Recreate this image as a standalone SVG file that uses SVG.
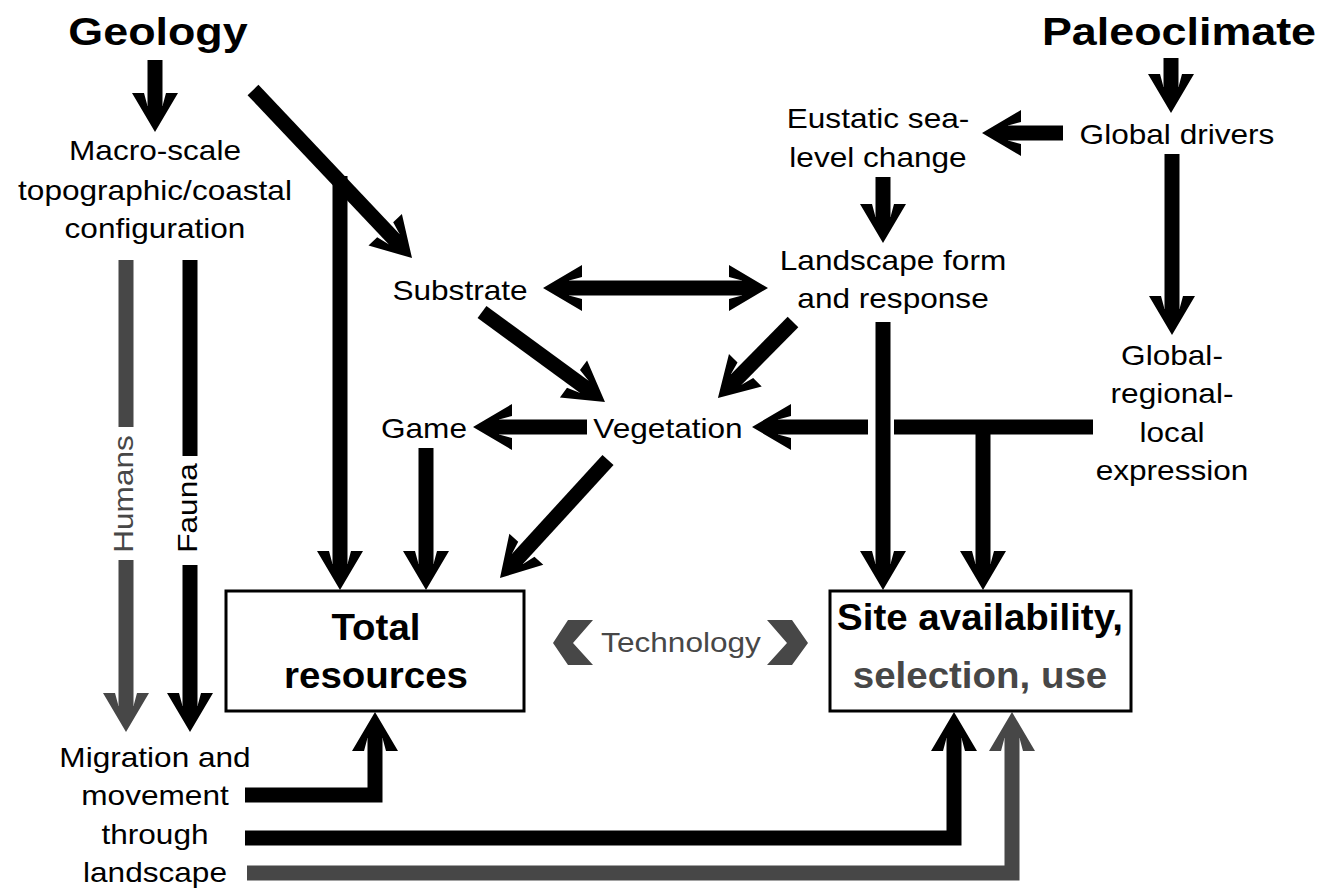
<svg xmlns="http://www.w3.org/2000/svg" width="1332" height="889" viewBox="0 0 1332 889">
<style>
.t{font-family:"Liberation Sans",Arial,sans-serif;font-size:27px;fill:#000;text-anchor:middle}
.b{font-weight:bold;font-size:38px}
.bb{font-weight:bold;font-size:37px}
.g{fill:#474747}
.k{fill:none;stroke:#000;stroke-width:15;stroke-linejoin:miter}
.kg{fill:none;stroke:#474747;stroke-width:15;stroke-linejoin:miter}
.box{fill:#fff;stroke:#000;stroke-width:3}
</style>
<defs>
<marker id="ah" markerUnits="userSpaceOnUse" viewBox="-42 -25 44 50" markerWidth="44" markerHeight="50" refX="-24" refY="0" orient="auto-start-reverse" overflow="visible">
<polygon points="0,0 -39,-23 -39,-11 -26,-7.5 -26,7.5 -39,11 -39,23" fill="#000"/>
</marker>
<marker id="ahg" markerUnits="userSpaceOnUse" viewBox="-42 -25 44 50" markerWidth="44" markerHeight="50" refX="-24" refY="0" orient="auto" overflow="visible">
<polygon points="0,0 -39,-23 -39,-11 -26,-7.5 -26,7.5 -39,11 -39,23" fill="#474747"/>
</marker>
</defs>
<rect width="1332" height="889" fill="#fff"/>

<g id="connectors">
<path class="k" d="M155,60 V108" marker-end="url(#ah)"/>
<path class="k" d="M253,90 L395.5,240.6" marker-end="url(#ah)"/>
<path class="k" d="M340,176 V566" marker-end="url(#ah)"/>
<path class="kg" d="M126,260 V427"/>
<path class="kg" d="M126,560 V708" marker-end="url(#ahg)"/>
<path class="k" d="M190,260 V456"/>
<path class="k" d="M190,565 V708" marker-end="url(#ah)"/>
<path class="k" d="M426,448 V566" marker-end="url(#ah)"/>
<path class="k" d="M608,460 L516.2,560.3" marker-end="url(#ah)"/>
<path class="k" d="M482,312 L585.6,387.8" marker-end="url(#ah)"/>
<path class="k" d="M793,322 L734.8,380.9" marker-end="url(#ah)"/>
<path class="k" d="M567,288 H744" marker-start="url(#ah)" marker-end="url(#ah)"/>
<path class="k" d="M587,427 H497" marker-end="url(#ah)"/>
<path class="k" d="M1093,427 H894"/>
<path class="k" d="M868,427 H776" marker-end="url(#ah)"/>
<path class="k" d="M983,420 V566" marker-end="url(#ah)"/>
<path class="k" d="M883,322 V566" marker-end="url(#ah)"/>
<path class="k" d="M883,177 V219" marker-end="url(#ah)"/>
<path class="k" d="M1063,133 H1006" marker-end="url(#ah)"/>
<path class="k" d="M1172,154 V311" marker-end="url(#ah)"/>
<path class="k" d="M1171,58 V89" marker-end="url(#ah)"/>
<path class="k" d="M245,795 H375 V736" marker-end="url(#ah)"/>
<path class="k" d="M245,838 H954 V736" marker-end="url(#ah)"/>
<path class="kg" d="M247,873 H1012 V736" marker-end="url(#ahg)"/>
</g>

<g id="geology"><text class="t b" transform="translate(158,45) scale(1.18,1)">Geology</text></g>
<g id="paleoclimate"><text class="t b" transform="translate(1179,45) scale(1.18,1)">Paleoclimate</text></g>
<g id="macro"><text class="t" transform="translate(155,160) scale(1.17,1)"><tspan x="0" y="0">Macro-scale</tspan><tspan x="0" y="40">topographic/coastal</tspan><tspan x="0" y="78">configuration</tspan></text></g>
<g id="eustatic"><text class="t" transform="translate(878,128) scale(1.17,1)"><tspan x="0" y="0">Eustatic sea-</tspan><tspan x="0" y="39">level change</tspan></text></g>
<g id="globaldrivers"><text class="t" transform="translate(1177,144) scale(1.17,1)">Global drivers</text></g>
<g id="landscape"><text class="t" transform="translate(893,270) scale(1.17,1)"><tspan x="0" y="0">Landscape form</tspan><tspan x="0" y="38">and response</tspan></text></g>
<g id="substrate"><text class="t" transform="translate(460,300) scale(1.17,1)">Substrate</text></g>
<g id="gexpr"><text class="t" transform="translate(1172,365) scale(1.17,1)"><tspan x="0" y="0">Global-</tspan><tspan x="0" y="38.5">regional-</tspan><tspan x="0" y="77">local</tspan><tspan x="0" y="115.5">expression</tspan></text></g>
<g id="game"><text class="t" transform="translate(424,438) scale(1.17,1)">Game</text></g>
<g id="vegetation"><text class="t" transform="translate(668,438) scale(1.17,1)">Vegetation</text></g>
<g id="humans"><text class="t g" transform="translate(133,494) rotate(-90) scale(1.17,1)">Humans</text></g>
<g id="fauna"><text class="t" transform="translate(197,508) rotate(-90) scale(1.17,1)">Fauna</text></g>
<g id="total">
<rect class="box" x="226" y="591" width="298" height="120"/>
<text class="t bb" transform="translate(376,640) scale(1.04,1)"><tspan x="0" y="0">Total</tspan><tspan x="0" y="48">resources</tspan></text>
</g>
<g id="site">
<rect class="box" x="830" y="591" width="301" height="120"/>
<text class="t bb" transform="translate(980,630) scale(1.04,1)"><tspan x="0" y="0">Site availability,</tspan><tspan class="g" x="0" y="58">selection, use</tspan></text>
</g>
<g id="technology">
<polygon class="g" points="553,643 568,620 593,620 573,643 593,665 568,665"/>
<polygon class="g" points="808,643 792,620 767,620 787,643 767,665 792,665"/>
<text class="t g" transform="translate(681,652) scale(1.17,1)">Technology</text>
</g>
<g id="migration"><text class="t" transform="translate(155,767) scale(1.17,1)"><tspan x="0" y="0">Migration and</tspan><tspan x="0" y="38">movement</tspan><tspan x="0" y="77">through</tspan><tspan x="0" y="115">landscape</tspan></text></g>
</svg>
